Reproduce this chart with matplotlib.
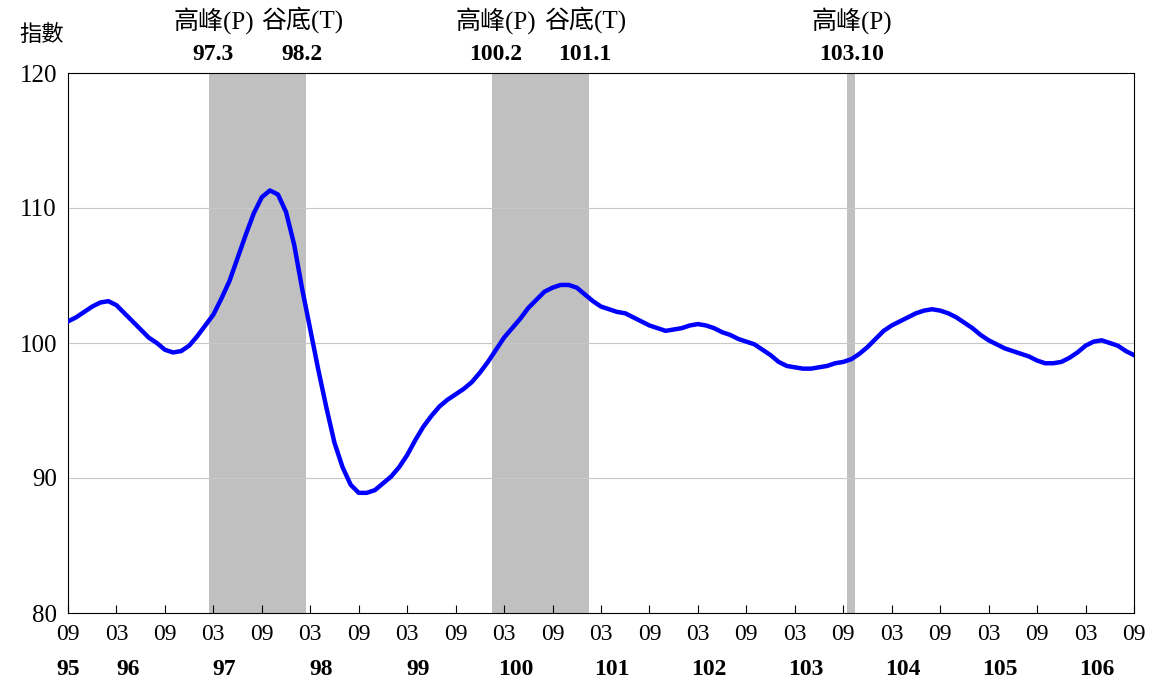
import matplotlib
matplotlib.use("Agg")
import matplotlib.pyplot as plt
import numpy as np

values = [101.6,101.9,102.3,102.7,103.0,103.1,102.8,102.2,101.6,101.0,
100.4,100.0,99.5,99.3,99.4,99.8,100.5,101.3,102.1,103.3,
104.6,106.3,108.0,109.6,110.8,111.3,111.0,109.7,107.3,104.0,
101.0,98.0,95.2,92.6,90.8,89.5,88.9,88.9,89.1,89.6,
90.1,90.8,91.7,92.8,93.8,94.6,95.3,95.8,96.2,96.6,
97.1,97.8,98.6,99.5,100.4,101.1,101.8,102.6,103.2,103.8,
104.1,104.3,104.3,104.1,103.6,103.1,102.7,102.5,102.3,102.2,
101.9,101.6,101.3,101.1,100.9,101.0,101.1,101.3,101.4,101.3,
101.1,100.8,100.6,100.3,100.1,99.9,99.5,99.1,98.6,98.3,
98.2,98.1,98.1,98.2,98.3,98.5,98.6,98.8,99.2,99.7,
100.3,100.9,101.3,101.6,101.9,102.2,102.4,102.5,102.4,102.2,
101.9,101.5,101.1,100.6,100.2,99.9,99.6,99.4,99.2,99.0,
98.7,98.5,98.5,98.6,98.9,99.3,99.8,100.1,100.2,100.0,
99.8,99.4,99.1]
start_year, start_month = 95, 9
tick_labels = ["09", "03"]
year_labels = ["95","96","97","98","99","100","101","102","103","104","105","106"]
turns = [("高峰(P)", "97.3", (97, 3)), ("谷底(T)", "98.2", (98, 2)),
         ("高峰(P)", "100.2", (100, 2)), ("谷底(T)", "101.1", (101, 1)),
         ("高峰(P)", "103.10", (103, 10))]
bands = [((97, 3), (98, 2)), ((100, 2), (101, 1)), ((103, 10), (103, 10))]

def idx(y, m):
    return (y - start_year) * 12 + (m - start_month)

plt.rcParams['font.family'] = ['Liberation Serif', 'Noto Sans CJK TC']
fig = plt.figure(figsize=(11.53, 6.82), dpi=100)
ax = fig.add_axes([68/1153, 1-613/682, (1134-68)/1153, (613-73)/682])
x = np.arange(len(values))
for a, b in bands:
    ax.axvspan(idx(*a) - 0.5, idx(*b) + 0.5, color='#c0c0c0', lw=0, zorder=0)
for v in [90, 100, 110]:
    ax.axhline(v, color='#c8c8c8', lw=0.8, zorder=1)
ax.plot(x, values, color='#0000ff', lw=3.2, zorder=3)
ax.set_xlim(0, len(values) - 1)
ax.set_ylim(80, 120)
ax.set_yticks([80, 90, 100, 110, 120])
ax.tick_params(axis='y', labelsize=18, length=0, pad=8)
ticks = list(range(0, len(values), 6))
ax.set_xticks(ticks)
ax.set_xticklabels([tick_labels[(i // 6) % 2] for i in ticks])
ax.tick_params(axis='x', labelsize=17, direction='in', length=6, pad=8)
for i, yl in enumerate(year_labels):
    pos = 0 if i == 0 else idx(start_year + i, 3) + 1.4
    ax.text(pos, -0.105, yl, transform=ax.get_xaxis_transform(), ha='center',
            va='center', fontsize=17, fontweight='bold')
for lab, d, (yy, mm) in turns:
    p = idx(yy, mm)
    ax.text(p, 1.098, lab, transform=ax.get_xaxis_transform(), ha='center',
            va='center', fontsize=18)
    ax.text(p, 1.035, d, transform=ax.get_xaxis_transform(), ha='center',
            va='center', fontsize=17, fontweight='bold')
fig.text(42/1153, 1-35/682, "指數", ha='center', va='center', fontsize=16)
fig.savefig("out.png", dpi=100)
